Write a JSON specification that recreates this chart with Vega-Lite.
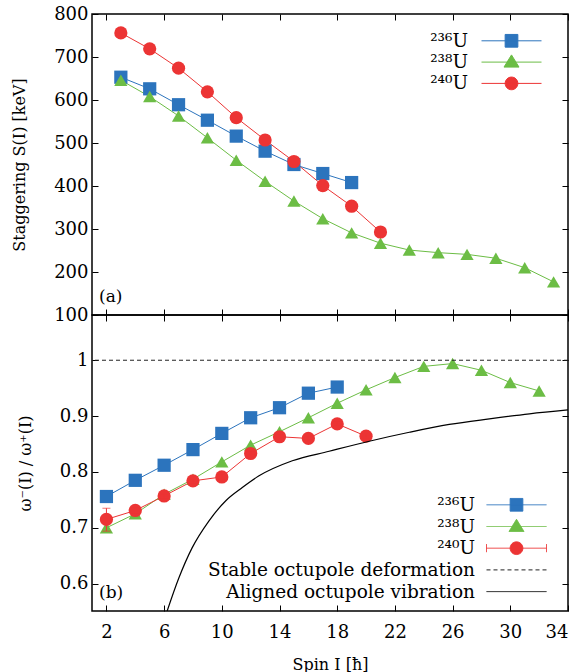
{
  "$schema": "https://vega.github.io/schema/vega-lite/v6.json",
  "padding": {"left": 10, "top": 4, "right": 5, "bottom": 0},
  "datasets": {
    "stag": [
      {"nucleus": "²³⁶U", "spin": 3, "S": 653}, {"nucleus": "²³⁶U", "spin": 5, "S": 626},
      {"nucleus": "²³⁶U", "spin": 7, "S": 589}, {"nucleus": "²³⁶U", "spin": 9, "S": 553},
      {"nucleus": "²³⁶U", "spin": 11, "S": 516}, {"nucleus": "²³⁶U", "spin": 13, "S": 481},
      {"nucleus": "²³⁶U", "spin": 15, "S": 450}, {"nucleus": "²³⁶U", "spin": 17, "S": 429},
      {"nucleus": "²³⁶U", "spin": 19, "S": 408},
      {"nucleus": "²³⁸U", "spin": 3, "S": 646}, {"nucleus": "²³⁸U", "spin": 5, "S": 608},
      {"nucleus": "²³⁸U", "spin": 7, "S": 563}, {"nucleus": "²³⁸U", "spin": 9, "S": 512},
      {"nucleus": "²³⁸U", "spin": 11, "S": 460}, {"nucleus": "²³⁸U", "spin": 13, "S": 411},
      {"nucleus": "²³⁸U", "spin": 15, "S": 365}, {"nucleus": "²³⁸U", "spin": 17, "S": 324},
      {"nucleus": "²³⁸U", "spin": 19, "S": 291}, {"nucleus": "²³⁸U", "spin": 21, "S": 267},
      {"nucleus": "²³⁸U", "spin": 23, "S": 251}, {"nucleus": "²³⁸U", "spin": 25, "S": 245},
      {"nucleus": "²³⁸U", "spin": 27, "S": 241}, {"nucleus": "²³⁸U", "spin": 29, "S": 232},
      {"nucleus": "²³⁸U", "spin": 31, "S": 210}, {"nucleus": "²³⁸U", "spin": 33, "S": 177},
      {"nucleus": "²⁴⁰U", "spin": 3, "S": 756}, {"nucleus": "²⁴⁰U", "spin": 5, "S": 719},
      {"nucleus": "²⁴⁰U", "spin": 7, "S": 674}, {"nucleus": "²⁴⁰U", "spin": 9, "S": 619},
      {"nucleus": "²⁴⁰U", "spin": 11, "S": 559}, {"nucleus": "²⁴⁰U", "spin": 13, "S": 507},
      {"nucleus": "²⁴⁰U", "spin": 15, "S": 457}, {"nucleus": "²⁴⁰U", "spin": 17, "S": 401},
      {"nucleus": "²⁴⁰U", "spin": 19, "S": 353}, {"nucleus": "²⁴⁰U", "spin": 21, "S": 293}
    ],
    "ratio": [
      {"nucleus": "²³⁶U", "spin": 2, "r": 0.756}, {"nucleus": "²³⁶U", "spin": 4, "r": 0.785},
      {"nucleus": "²³⁶U", "spin": 6, "r": 0.812}, {"nucleus": "²³⁶U", "spin": 8, "r": 0.840},
      {"nucleus": "²³⁶U", "spin": 10, "r": 0.869}, {"nucleus": "²³⁶U", "spin": 12, "r": 0.897},
      {"nucleus": "²³⁶U", "spin": 14, "r": 0.915}, {"nucleus": "²³⁶U", "spin": 16, "r": 0.941},
      {"nucleus": "²³⁶U", "spin": 18, "r": 0.952},
      {"nucleus": "²³⁸U", "spin": 2, "r": 0.700}, {"nucleus": "²³⁸U", "spin": 4, "r": 0.725},
      {"nucleus": "²³⁸U", "spin": 6, "r": 0.760}, {"nucleus": "²³⁸U", "spin": 8, "r": 0.787},
      {"nucleus": "²³⁸U", "spin": 10, "r": 0.818}, {"nucleus": "²³⁸U", "spin": 12, "r": 0.848},
      {"nucleus": "²³⁸U", "spin": 14, "r": 0.872}, {"nucleus": "²³⁸U", "spin": 16, "r": 0.897},
      {"nucleus": "²³⁸U", "spin": 18, "r": 0.923}, {"nucleus": "²³⁸U", "spin": 20, "r": 0.947},
      {"nucleus": "²³⁸U", "spin": 22, "r": 0.969}, {"nucleus": "²³⁸U", "spin": 24, "r": 0.989},
      {"nucleus": "²³⁸U", "spin": 26, "r": 0.994}, {"nucleus": "²³⁸U", "spin": 28, "r": 0.982},
      {"nucleus": "²³⁸U", "spin": 30, "r": 0.960}, {"nucleus": "²³⁸U", "spin": 32, "r": 0.945},
      {"nucleus": "²⁴⁰U", "spin": 2, "r": 0.715, "lo": 0.694, "hi": 0.735},
      {"nucleus": "²⁴⁰U", "spin": 4, "r": 0.731, "lo": 0.727, "hi": 0.735},
      {"nucleus": "²⁴⁰U", "spin": 6, "r": 0.757, "lo": 0.754, "hi": 0.760},
      {"nucleus": "²⁴⁰U", "spin": 8, "r": 0.784, "lo": 0.781, "hi": 0.787},
      {"nucleus": "²⁴⁰U", "spin": 10, "r": 0.791, "lo": 0.788, "hi": 0.794},
      {"nucleus": "²⁴⁰U", "spin": 12, "r": 0.833, "lo": 0.830, "hi": 0.836},
      {"nucleus": "²⁴⁰U", "spin": 14, "r": 0.863, "lo": 0.860, "hi": 0.866},
      {"nucleus": "²⁴⁰U", "spin": 16, "r": 0.860, "lo": 0.857, "hi": 0.863},
      {"nucleus": "²⁴⁰U", "spin": 18, "r": 0.886, "lo": 0.883, "hi": 0.889},
      {"nucleus": "²⁴⁰U", "spin": 20, "r": 0.864, "lo": 0.861, "hi": 0.867}
    ],
    "vib": [
      {"spin": 6.21, "r": 0.551}, {"spin": 7.02, "r": 0.610}, {"spin": 7.94, "r": 0.664},
      {"spin": 9.10, "r": 0.712}, {"spin": 10.26, "r": 0.748}, {"spin": 11.42, "r": 0.772},
      {"spin": 12.58, "r": 0.793}, {"spin": 14.89, "r": 0.820}, {"spin": 17.44, "r": 0.837},
      {"spin": 20.22, "r": 0.855}, {"spin": 23.0, "r": 0.871}, {"spin": 25.77, "r": 0.885},
      {"spin": 28.55, "r": 0.895}, {"spin": 31.33, "r": 0.904}, {"spin": 34, "r": 0.911}
    ],
    "limit": [{"r": 1}]
  },
  "vconcat": [
    {
      "width": 476,
      "height": 301,
      "layer": [
        {
          "data": {"name": "stag"},
          "mark": {"type": "line", "strokeWidth": 1, "clip": true},
          "encoding": {
            "x": {"field": "spin", "type": "quantitative", "scale": {"domain": [1, 34], "nice": false},
              "axis": {"orient": "bottom", "values": [2, 6, 10, 14, 18, 22, 26, 30, 34], "labels": false, "title": null}},
            "y": {"field": "S", "type": "quantitative", "scale": {"domain": [100, 800], "nice": false, "zero": false},
              "axis": {"orient": "left", "values": [100, 200, 300, 400, 500, 600, 700, 800], "title": "Staggering S(I) [keV]"}},
            "color": {"field": "nucleus", "type": "nominal",
              "scale": {"domain": ["²³⁶U", "²³⁸U", "²⁴⁰U"], "range": ["#2c74bd", "#6cbd45", "#ec3434"]}, "legend": null}
          }
        },
        {
          "data": {"name": "stag"},
          "mark": {"type": "point", "filled": true, "opacity": 1, "size": 175, "clip": true},
          "encoding": {
            "x": {"field": "spin", "type": "quantitative",
              "axis": {"orient": "top", "values": [2, 6, 10, 14, 18, 22, 26, 30, 34], "labels": false, "title": null}},
            "y": {"field": "S", "type": "quantitative",
              "axis": {"orient": "right", "values": [100, 200, 300, 400, 500, 600, 700, 800], "labels": false, "title": null}},
            "color": {"field": "nucleus", "type": "nominal",
              "scale": {"domain": ["²³⁶U", "²³⁸U", "²⁴⁰U"], "range": ["#2c74bd", "#6cbd45", "#ec3434"]}, "legend": null},
            "shape": {"field": "nucleus", "type": "nominal",
              "scale": {"domain": ["²³⁶U", "²³⁸U", "²⁴⁰U"], "range": ["square", "triangle-up", "circle"]}, "legend": null}
          }
        },
        {
          "data": {"values": []},
          "mark": {"type": "point", "filled": true, "opacity": 1, "size": 400, "strokeWidth": 1},
          "encoding": {
            "color": {"field": "nucleus", "type": "nominal",
              "scale": {"domain": ["²³⁶U", "²³⁸U", "²⁴⁰U"], "range": ["#2c74bd", "#6cbd45", "#ec3434"]},
              "legend": {
                "title": null, "orient": "none", "legendX": 409, "legendY": 16.3,
                "symbolSize": 400, "symbolStrokeWidth": 1, "labelAlign": "right",
                "symbolOffset": 0, "labelOffset": -54, "rowPadding": 1.3, "padding": 0,
                "labelFont": "DejaVu Serif", "labelFontSize": 18.5, "labelColor": "black"
              }},
            "stroke": {"field": "nucleus", "type": "nominal",
              "scale": {"domain": ["²³⁶U", "²³⁸U", "²⁴⁰U"], "range": ["#2c74bd", "#6cbd45", "#ec3434"]}},
            "shape": {"field": "nucleus", "type": "nominal",
              "scale": {"domain": ["²³⁶U", "²³⁸U", "²⁴⁰U"], "range": [
                "M-3,0H3M-0.635,-0.635H0.635V0.635H-0.635Z",
                "M-3,0H3M0,-0.72L0.75,0.5H-0.75Z",
                "M-3,0H3M-0.635,0A0.635,0.635,0,1,0,0.635,0A0.635,0.635,0,1,0,-0.635,0Z"]}}
          }
        },
        {
          "data": {"values": [{"label": "(a)"}]},
          "mark": {"type": "text", "align": "left", "baseline": "alphabetic", "dx": 7, "dy": -13, "font": "DejaVu Serif", "fontSize": 17, "color": "black"},
          "encoding": {
            "x": {"datum": 1, "type": "quantitative", "axis": null},
            "y": {"datum": 100, "type": "quantitative", "axis": null},
            "text": {"field": "label"}
          }
        }
      ],
      "resolve": {
        "axis": {"x": "independent", "y": "independent"},
        "scale": {"color": "independent", "shape": "independent", "stroke": "independent"},
        "legend": {"color": "independent", "shape": "independent", "stroke": "independent"}
      }
    },
    {
      "width": 476,
      "height": 296,
      "layer": [
        {
          "data": {"name": "ratio"},
          "mark": {"type": "line", "strokeWidth": 1, "clip": true},
          "encoding": {
            "x": {"field": "spin", "type": "quantitative", "scale": {"domain": [1, 34], "nice": false},
              "axis": {"orient": "bottom", "values": [2, 6, 10, 14, 18, 22, 26, 30, 34], "title": "Spin I [ħ]"}},
            "y": {"field": "r", "type": "quantitative", "scale": {"domain": [0.551, 1.081], "nice": false, "zero": false},
              "axis": {"orient": "left", "values": [0.6, 0.7, 0.8, 0.9, 1], "format": "~g", "title": "ω⁻(I) / ω⁺(I)"}},
            "color": {"field": "nucleus", "type": "nominal",
              "scale": {"domain": ["²³⁶U", "²³⁸U", "²⁴⁰U"], "range": ["#2c74bd", "#6cbd45", "#ec3434"]}, "legend": null}
          }
        },
        {
          "data": {"name": "ratio"},
          "mark": {"type": "point", "filled": true, "opacity": 1, "size": 175, "clip": true},
          "encoding": {
            "x": {"field": "spin", "type": "quantitative",
              "axis": {"orient": "top", "values": [2, 6, 10, 14, 18, 22, 26, 30, 34], "labels": false, "title": null}},
            "y": {"field": "r", "type": "quantitative",
              "axis": {"orient": "right", "values": [0.6, 0.7, 0.8, 0.9, 1], "labels": false, "title": null}},
            "color": {"field": "nucleus", "type": "nominal",
              "scale": {"domain": ["²³⁶U", "²³⁸U", "²⁴⁰U"], "range": ["#2c74bd", "#6cbd45", "#ec3434"]}, "legend": null},
            "shape": {"field": "nucleus", "type": "nominal",
              "scale": {"domain": ["²³⁶U", "²³⁸U", "²⁴⁰U"], "range": ["square", "triangle-up", "circle"]}, "legend": null}
          }
        },
        {
          "data": {"name": "ratio"},
          "transform": [{"filter": "datum.nucleus == '²⁴⁰U'"}],
          "mark": {"type": "errorbar", "ticks": true, "size": 8, "color": "#ec3434", "thickness": 1},
          "encoding": {
            "x": {"field": "spin", "type": "quantitative", "axis": null},
            "y": {"field": "lo", "type": "quantitative", "axis": null},
            "y2": {"field": "hi"}
          }
        },
        {
          "data": {"name": "limit"},
          "mark": {"type": "rule", "strokeWidth": 1, "strokeDash": [4, 3], "color": "#222222"},
          "encoding": {
            "y": {"field": "r", "type": "quantitative", "axis": null}
          }
        },
        {
          "data": {"name": "vib"},
          "mark": {"type": "line", "strokeWidth": 1.2, "clip": true, "interpolate": "monotone", "color": "black"},
          "encoding": {
            "x": {"field": "spin", "type": "quantitative", "axis": null},
            "y": {"field": "r", "type": "quantitative", "axis": null}
          }
        },
        {
          "data": {"values": []},
          "mark": {"type": "point", "filled": true, "opacity": 1, "size": 400, "strokeWidth": 1},
          "encoding": {
            "color": {"field": "curve", "type": "nominal",
              "scale": {"domain": ["²³⁶U", "²³⁸U", "²⁴⁰U", "Stable octupole deformation", "Aligned octupole vibration"],
                "range": ["#2c74bd", "#6cbd45", "#ec3434", "transparent", "transparent"]},
              "legend": {
                "title": null, "orient": "none", "legendX": 414, "legendY": 179.3,
                "symbolSize": 400, "symbolStrokeWidth": 1, "labelAlign": "right",
                "symbolOffset": 0, "labelOffset": -52, "rowPadding": 1.7, "padding": 0, "labelLimit": 400,
                "labelFont": "DejaVu Serif", "labelFontSize": 18.5, "labelColor": "black"
              }},
            "stroke": {"field": "curve", "type": "nominal",
              "scale": {"domain": ["²³⁶U", "²³⁸U", "²⁴⁰U", "Stable octupole deformation", "Aligned octupole vibration"],
                "range": ["#2c74bd", "#6cbd45", "#ec3434", "#222222", "#000000"]}},
            "strokeDash": {"field": "curve", "type": "nominal",
              "scale": {"domain": ["²³⁶U", "²³⁸U", "²⁴⁰U", "Stable octupole deformation", "Aligned octupole vibration"],
                "range": [[1, 0], [1, 0], [1, 0], [4, 3], [1, 0]]}},
            "shape": {"field": "curve", "type": "nominal",
              "scale": {"domain": ["²³⁶U", "²³⁸U", "²⁴⁰U", "Stable octupole deformation", "Aligned octupole vibration"],
                "range": [
                  "M-3,0H3M-0.635,-0.635H0.635V0.635H-0.635Z",
                  "M-3,0H3M0,-0.72L0.75,0.5H-0.75Z",
                  "M-3,0H3M-3,-0.4V0.4M3,-0.4V0.4M-0.635,0A0.635,0.635,0,1,0,0.635,0A0.635,0.635,0,1,0,-0.635,0Z",
                  "M-3,0H3",
                  "M-3,0H3"]}}
          }
        },
        {
          "data": {"values": [{"label": "(b)"}]},
          "mark": {"type": "text", "align": "left", "baseline": "alphabetic", "dx": 7, "dy": -13, "font": "DejaVu Serif", "fontSize": 17, "color": "black"},
          "encoding": {
            "x": {"datum": 1, "type": "quantitative", "axis": null},
            "y": {"datum": 0.551, "type": "quantitative", "axis": null},
            "text": {"field": "label"}
          }
        }
      ],
      "resolve": {
        "axis": {"x": "independent", "y": "independent"},
        "scale": {"color": "independent", "shape": "independent", "stroke": "independent", "strokeDash": "independent"},
        "legend": {"color": "independent", "shape": "independent", "stroke": "independent", "strokeDash": "independent"}
      }
    }
  ],
  "spacing": 0,
  "bounds": "flush",
  "resolve": {
    "scale": {"x": "independent", "y": "independent", "color": "independent", "shape": "independent", "stroke": "independent", "strokeDash": "independent"},
    "legend": {"color": "independent", "shape": "independent", "stroke": "independent", "strokeDash": "independent"}
  },
  "config": {
    "view": {"stroke": "black", "strokeWidth": 1.5},
    "axis": {
      "domain": false, "grid": false,
      "tickColor": "black", "tickSize": -6, "tickWidth": 1,
      "labelFont": "DejaVu Serif", "labelFontSize": 18, "labelColor": "black",
      "titleFont": "DejaVu Serif", "titleFontSize": 16, "titleFontWeight": "normal", "titleColor": "black"
    },
    "axisX": {"labelPadding": 18, "titlePadding": 15},
    "axisY": {"labelPadding": 10, "titlePadding": 26},
    "text": {"font": "DejaVu Serif"}
  }
}
